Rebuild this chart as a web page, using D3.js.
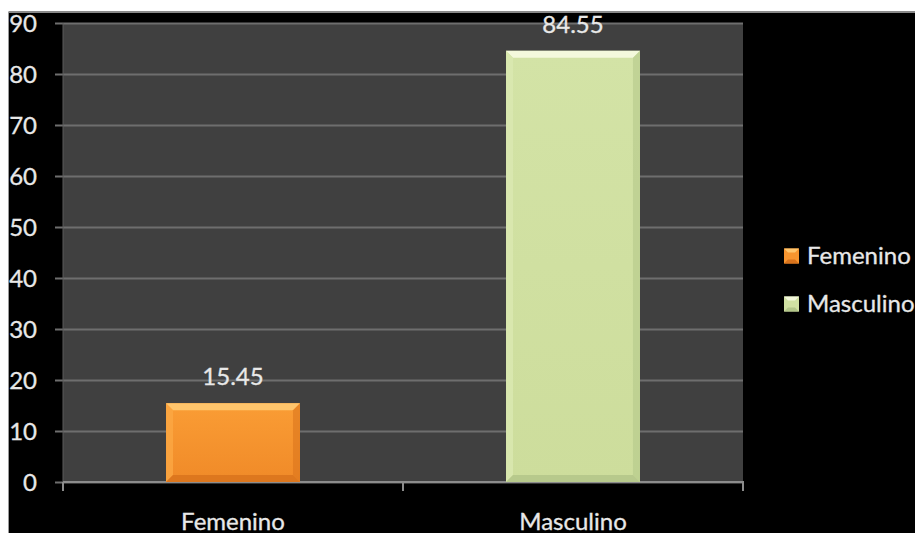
<!DOCTYPE html>
<html>
<head>
<meta charset="utf-8">
<script src="https://cdn.jsdelivr.net/npm/d3@7"></script>
<style>
  html, body { margin: 0; padding: 0; background: #ffffff; }
  svg { display: block; }
  text { font-family: Lato, "Open Sans", sans-serif; stroke: #e8e8e8; stroke-width: 0.3px; }
</style>
</head>
<body>
<svg id="chart" width="915" height="534"></svg>
<script>
// Share by sex (percent)
const categories = ["Femenino", "Masculino"];
const values = [15.45, 84.55];
const yTicks = [0, 10, 20, 30, 40, 50, 60, 70, 80, 90];

const palette = {
  Femenino:  { base: "#f7952f", light: "#ffc56c", side: "#fba843", dark: "#d9731c", top: "#fa9d35", bottom: "#f08a28" },
  Masculino: { base: "#d1e1a3", light: "#f4f9dc", side: "#dbe9b2", dark: "#b3c689", top: "#d3e3a6", bottom: "#cddd9c" }
};

const W = 915, H = 534;
const plot = { left: 63, right: 743, top: 23, bottom: 482 };

const svg = d3.select("#chart");

// chart frame: black panel with a thin grey rule on top and left
svg.append("rect").attr("x", 9).attr("y", 12).attr("width", W - 9).attr("height", 521).attr("fill", "#000");
svg.append("line").attr("x1", 8.5).attr("x2", W).attr("y1", 12).attr("y2", 12).attr("stroke", "#8a8a8a").attr("stroke-width", 2);
svg.append("line").attr("x1", 8.5).attr("x2", 8.5).attr("y1", 12).attr("y2", 533).attr("stroke", "#9a9a9a").attr("stroke-width", 1);

const x = d3.scaleBand().domain(categories).range([plot.left, plot.right]).paddingInner(0.606).paddingOuter(0.303);
const y = d3.scaleLinear().domain([0, 90]).range([plot.bottom, plot.top]);

// plot background
svg.append("rect")
  .attr("x", plot.left).attr("y", plot.top)
  .attr("width", plot.right - plot.left).attr("height", plot.bottom - plot.top)
  .attr("fill", "#404040");

// y axis with grid lines
const yAxis = d3.axisLeft(y).tickValues(yTicks).tickSize(plot.right - plot.left + 8).tickFormat(d3.format("d"));
const gy = svg.append("g").attr("transform", `translate(${plot.right},0)`).call(yAxis);
gy.select(".domain").remove();
gy.selectAll(".tick line").attr("stroke", "#6e6e6e").attr("stroke-width", 2);
gy.selectAll(".tick text")
  .attr("fill", "#e8e8e8").attr("font-size", 24).attr("font-family", "Lato, sans-serif")
  .attr("x", -(plot.right - plot.left) - 26).attr("dy", "0.34em");

// left axis line
svg.append("line").attr("x1", plot.left).attr("x2", plot.left)
  .attr("y1", plot.top).attr("y2", plot.bottom).attr("stroke", "#5a5a5a").attr("stroke-width", 1);

// x axis with category boundary ticks
const gx = svg.append("g").attr("transform", `translate(0,${plot.bottom})`);
gx.append("line").attr("x1", plot.left).attr("x2", plot.right + 1)
  .attr("stroke", "#8c8c8c").attr("stroke-width", 2);
const gap = (x.step() - x.bandwidth()) / 2;
const bounds = [plot.left, ...categories.slice(1).map(c => x(c) - gap), plot.right];
gx.selectAll("line.tk").data(bounds).join("line").attr("class", "tk")
  .attr("x1", d => d).attr("x2", d => d).attr("y1", 0).attr("y2", 9)
  .attr("stroke", "#8c8c8c").attr("stroke-width", 2);
gx.selectAll("text").data(categories).join("text")
  .attr("x", d => x(d) + x.bandwidth() / 2).attr("y", 48)
  .attr("text-anchor", "middle").attr("fill", "#e8e8e8").attr("font-size", 24)
  .text(d => d);

// bevelled bars
const defs = svg.append("defs");
categories.forEach((c, i) => {
  const p = palette[c];
  const g = defs.append("linearGradient").attr("id", "grad" + i).attr("x1", 0).attr("x2", 0).attr("y1", 0).attr("y2", 1);
  g.append("stop").attr("offset", "0%").attr("stop-color", p.top);
  g.append("stop").attr("offset", "100%").attr("stop-color", p.bottom);
});

const bevel = 7;
const bars = svg.append("g").selectAll("g").data(categories.map((c, i) => ({ c, v: values[i], i }))).join("g");
bars.each(function (d) {
  const g = d3.select(this);
  const p = palette[d.c];
  const x0 = x(d.c), x1 = x0 + x.bandwidth(), y0 = y(d.v), y1 = y(0);
  const b = Math.min(bevel, (y1 - y0) / 2);
  g.append("rect").attr("x", x0).attr("y", y0).attr("width", x1 - x0).attr("height", y1 - y0).attr("fill", `url(#grad${d.i})`);
  const poly = pts => g.append("polygon").attr("points", pts.map(q => q.join(",")).join(" "));
  poly([[x0, y0], [x1, y0], [x1 - b, y0 + b], [x0 + b, y0 + b]]).attr("fill", p.light);
  poly([[x0, y0], [x0 + b, y0 + b], [x0 + b, y1 - b], [x0, y1]]).attr("fill", p.side).attr("opacity", 0.8);
  poly([[x1, y0], [x1, y1], [x1 - b, y1 - b], [x1 - b, y0 + b]]).attr("fill", p.dark).attr("opacity", 0.55);
  poly([[x0, y1], [x0 + b, y1 - b], [x1 - b, y1 - b], [x1, y1]]).attr("fill", p.dark).attr("opacity", 0.85);
  g.append("text")
    .attr("x", (x0 + x1) / 2).attr("y", y0 - 18)
    .attr("text-anchor", "middle").attr("fill", "#e8e8e8").attr("font-size", 24)
    .text(d3.format(".2f")(d.v));
});

// legend
const legend = svg.append("g").attr("transform", "translate(784,0)");
const ly = [256, 304];
categories.forEach((c, i) => {
  const p = palette[c];
  const row = legend.append("g").attr("transform", `translate(0,${ly[i]})`);
  row.append("rect").attr("x", 0).attr("y", -7.5).attr("width", 15).attr("height", 15).attr("fill", p.base);
  row.append("polygon").attr("points", "0,-7.5 15,-7.5 11,-3.5 4,-3.5").attr("fill", p.light);
  row.append("polygon").attr("points", "0,7.5 4,3.5 11,3.5 15,7.5").attr("fill", p.dark);
  row.append("text").attr("x", 23).attr("y", 0).attr("dy", "0.35em")
    .attr("fill", "#e8e8e8").attr("font-size", 24).text(c);
});
</script>
</body>
</html>
